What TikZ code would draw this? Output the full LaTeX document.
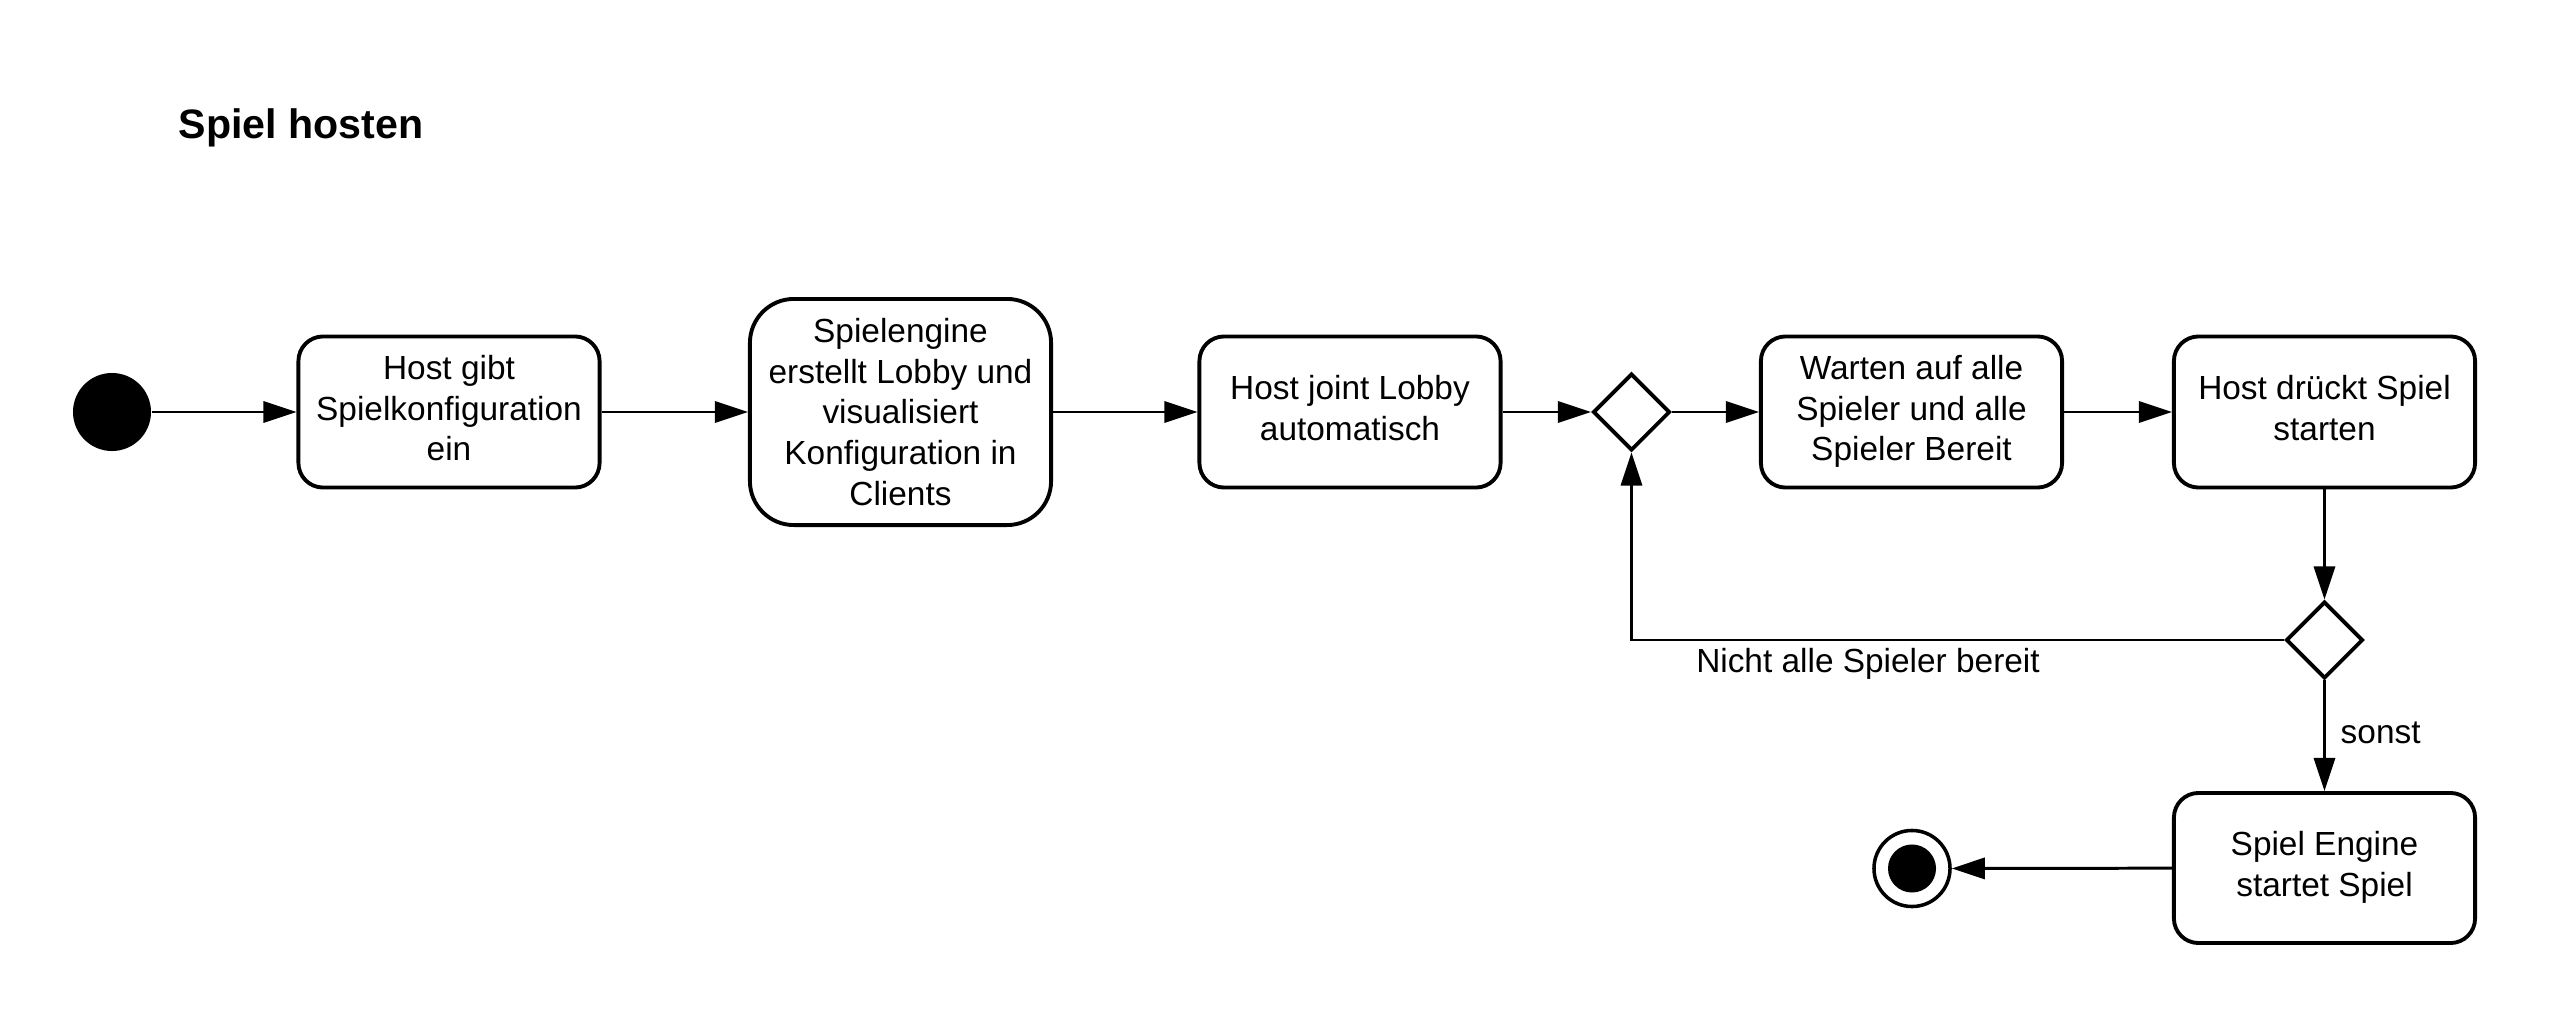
\documentclass[tikz,border=0pt]{standalone}
\usepackage{fontspec}
\setmainfont{Liberation Sans}
\usetikzlibrary{arrows.meta,shapes.geometric}
\begin{document}
\begin{tikzpicture}[x=0.01cm,y=-0.01cm,
  every node/.style={font=\fontsize{9.5}{11.6}\selectfont},
  act/.style={draw,line width=1.1pt,rectangle,rounded corners=7pt,minimum width=3.01cm,minimum height=1.51cm,inner sep=0pt,align=center,fill=white},
  dec/.style={draw,line width=1.1pt,diamond,minimum width=0.77cm,minimum height=0.77cm,inner sep=0pt,fill=white},
  flow/.style={line width=0.85pt,-{Triangle[length=9.4pt,width=6pt]}}
]
\useasboundingbox (0,0) rectangle (2550,1018);
\node[anchor=base west,inner sep=0pt,font=\fontsize{11.7}{14}\selectfont\bfseries] (title) at (178,138) {Spiel hosten};

\node[circle,fill=black,minimum size=0.78cm,inner sep=0pt] (start) at (112,412) {};
\node[act] (b1) at (449,412) {\raisebox{1pt}{\begin{tabular}{@{}c@{}}Host gibt\\Spielkonfiguration\\ein\end{tabular}}};
\node[act,minimum height=2.26cm,rounded corners=12.5pt] (b2) at (900.5,412) {Spielengine\\erstellt Lobby und\\visualisiert\\Konfiguration in\\Clients};
\node[act] (b3) at (1350,412) {\raisebox{1.4pt}{\begin{tabular}{@{}c@{}}Host joint Lobby\\automatisch\end{tabular}}};
\node[dec] (d1) at (1631.5,412) {};
\node[act] (b4) at (1911.5,412) {\raisebox{1pt}{\begin{tabular}{@{}c@{}}Warten auf alle\\Spieler und alle\\Spieler Bereit\end{tabular}}};
\node[act] (b5) at (2324.5,412) {\raisebox{1.4pt}{\begin{tabular}{@{}c@{}}Host drückt Spiel\\starten\end{tabular}}};
\node[dec] (d2) at (2324.5,640) {};
\node[act,minimum height=1.50cm] (b6) at (2324.5,868) {\raisebox{1.4pt}{\begin{tabular}{@{}c@{}}Spiel Engine\\startet Spiel\end{tabular}}};
\node[circle,draw,line width=1.0pt,minimum size=0.76cm,inner sep=0pt] (end) at (1912,868.5) {};
\fill (end.center) circle (0.24cm);

\draw[flow] (start) -- (b1);
\draw[flow] (b1) -- (b2);
\draw[flow] (b2) -- (b3);
\draw[flow] (b3) -- (d1);
\draw[flow] (d1) -- (b4);
\draw[flow] (b4) -- (b5);
\draw[flow] (b5) -- (d2);
\draw[flow] (d2.west) -| (d1.south);
\draw[flow] (d2.south) -- (b6.north);
\draw[flow] (b6) -- (end);
\node (lblno) at (1868,664) {Nicht alle Spieler bereit};
\node[anchor=west,inner sep=0pt] (lblsonst) at (2340,733) {sonst};
\end{tikzpicture}
\end{document}
